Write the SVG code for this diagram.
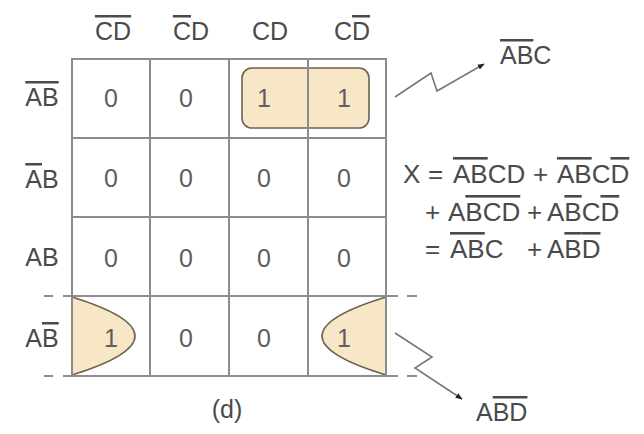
<svg xmlns="http://www.w3.org/2000/svg" width="644" height="434" viewBox="0 0 644 434">
<defs>
<style>
.t{font-family:"Liberation Sans",Arial,sans-serif;font-size:25px;fill:#4a4a4a}
.d{font-family:"Liberation Sans",Arial,sans-serif;font-size:25px;fill:#5e5e5e;text-anchor:middle}
.eq{font-family:"Liberation Sans",Arial,sans-serif;font-size:26px;fill:#4a4a4a}
.o{text-decoration:overline}
.g{stroke:#8c8c8c;stroke-width:2;fill:none}
.grp{fill:#f8e7c6;stroke:#6e6250;stroke-width:1.6}
.cn{fill:none;stroke:#777;stroke-width:1.6}
</style>
<marker id="ah" viewBox="0 0 10 10" refX="9" refY="5" markerWidth="7" markerHeight="7" orient="auto" markerUnits="userSpaceOnUse">
<path d="M0,1 L10,5 L0,9 Z" fill="#222"/>
</marker>
</defs>
<rect width="644" height="434" fill="#fff"/>
<g id="groups">
<rect id="group-top" class="grp" x="242" y="68" width="127" height="60" rx="10"/>
<path id="group-left" class="grp" d="M72,297 Q198,336 72,375 Z"/>
<path id="group-right" class="grp" d="M386,297 Q258,336 386,375 Z"/>
</g>
<g id="grid">
<rect class="g" x="72" y="59" width="314" height="317"/>
<line class="g" x1="150" y1="59" x2="150" y2="376"/>
<line class="g" x1="229" y1="59" x2="229" y2="376"/>
<line class="g" x1="308" y1="59" x2="308" y2="376" stroke="#666"/>
<line class="g" x1="72" y1="138" x2="386" y2="138"/>
<line class="g" x1="72" y1="217" x2="386" y2="217"/>
<line class="g" x1="63" y1="296" x2="398" y2="296"/>
<line class="g" x1="63" y1="376" x2="398" y2="376"/>
<line class="g" x1="44" y1="296" x2="53" y2="296"/>
<line class="g" x1="44" y1="376" x2="53" y2="376"/>
<line class="g" x1="407" y1="296" x2="417" y2="296"/>
<line class="g" x1="407" y1="376" x2="417" y2="376"/>
</g>
<g id="col-labels">
<text class="t" x="113" y="40" text-anchor="middle"><tspan class="o">CD</tspan></text>
<text class="t" x="191" y="40" text-anchor="middle"><tspan class="o">C</tspan>D</text>
<text class="t" x="270" y="40" text-anchor="middle">CD</text>
<text class="t" x="352" y="40" text-anchor="middle">C<tspan class="o">D</tspan></text>
</g>
<g id="row-labels">
<text class="t" x="42" y="106" text-anchor="middle"><tspan class="o">AB</tspan></text>
<text class="t" x="42" y="188" text-anchor="middle"><tspan class="o">A</tspan>B</text>
<text class="t" x="42" y="266" text-anchor="middle">AB</text>
<text class="t" x="42" y="347" text-anchor="middle">A<tspan class="o">B</tspan></text>
</g>
<g id="cells">
<text class="d" x="111" y="107">0</text>
<text class="d" x="186" y="107">0</text>
<text class="d" x="264" y="107">1</text>
<text class="d" x="344" y="107">1</text>
<text class="d" x="111" y="187">0</text>
<text class="d" x="186" y="187">0</text>
<text class="d" x="264" y="187">0</text>
<text class="d" x="344" y="187">0</text>
<text class="d" x="111" y="267">0</text>
<text class="d" x="186" y="267">0</text>
<text class="d" x="264" y="267">0</text>
<text class="d" x="344" y="267">0</text>
<text class="d" x="111" y="347">1</text>
<text class="d" x="186" y="347">0</text>
<text class="d" x="264" y="347">0</text>
<text class="d" x="344" y="347">1</text>
</g>
<g id="connectors">
<polyline class="cn" points="395,97 431,73 437,91 484,64" marker-end="url(#ah)"/>
<polyline class="cn" points="395,333 432,357 415,368 462,399" marker-end="url(#ah)"/>
</g>
<g id="label-top">
<text class="t" x="500" y="64"><tspan class="o">AB</tspan>C</text>
</g>
<g id="label-bottom">
<text class="t" x="476" y="421">A<tspan class="o">BD</tspan></text>
</g>
<g id="caption">
<text class="t" x="227" y="418" text-anchor="middle" fill="#666">(d)</text>
</g>
<g id="equation">
<text class="eq" x="403" y="183">X</text>
<text class="eq" x="428" y="183">=</text>
<text class="eq" x="453" y="183"><tspan class="o">AB</tspan>CD</text>
<text class="eq" x="533" y="183">+</text>
<text class="eq" x="557" y="183"><tspan class="o">AB</tspan>C<tspan class="o">D</tspan></text>
<text class="eq" x="425" y="221">+</text>
<text class="eq" x="448" y="221">A<tspan class="o">BCD</tspan></text>
<text class="eq" x="527" y="221">+</text>
<text class="eq" x="547" y="221">A<tspan class="o">B</tspan>C<tspan class="o">D</tspan></text>
<text class="eq" x="425" y="258">=</text>
<text class="eq" x="450" y="258"><tspan class="o">AB</tspan>C</text>
<text class="eq" x="527" y="258">+</text>
<text class="eq" x="547" y="258">A<tspan class="o">B</tspan><tspan class="o">D</tspan></text>
</g>
</svg>
